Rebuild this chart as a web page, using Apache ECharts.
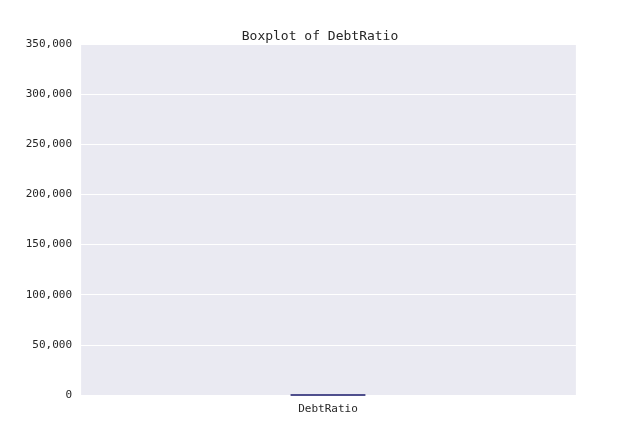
<!DOCTYPE html>
<html><head><meta charset="UTF-8">
<script src="https://cdn.jsdelivr.net/npm/echarts@6/dist/echarts.min.js"></script>
</head><body style="margin:0">
<div id="main" style="width:640px;height:440px;"></div>
<script>
var categories = ['DebtRatio'];
// min, Q1, median, Q3, upper whisker
var boxValues = [[0, 0.175, 0.367, 0.868, 1.91]];
var yTicks = [0, 50000, 100000, 150000, 200000, 250000, 300000, 350000];

var chart = echarts.init(document.getElementById('main'));
var font = 'DejaVu Sans Mono';
chart.setOption({
  animation: false,
  title: { text: 'Boxplot of DebtRatio', left: 'center', top: 25,
    textStyle: { fontFamily: font, fontSize: 13, fontWeight: 'normal', color: '#262626' } },
  grid: { left: 80, right: 64, top: 44, bottom: 45, backgroundColor: '#EAEAF2', show: true, borderWidth: 0 },
  xAxis: {
    type: 'category', data: categories,
    axisLine: { show: false }, axisTick: { show: false, alignWithLabel: true },
    axisLabel: { fontFamily: font, fontSize: 11, color: '#262626', margin: 9 },
    splitLine: { show: true, lineStyle: { color: '#fff', width: 1.2 } }
  },
  yAxis: {
    type: 'value', min: 0, max: 350000, interval: 50000,
    axisLine: { show: false }, axisTick: { show: false },
    axisLabel: { fontFamily: font, fontSize: 11, color: '#262626', margin: 8 },
    splitLine: { lineStyle: { color: '#fff', width: 1.2 } }
  },
  series: [{
    type: 'boxplot', data: boxValues, boxWidth: ['15%', '15%'],
    itemStyle: { color: '#4C72B0', borderColor: '#4a4a8a', borderWidth: 1 }
  }]
});
</script></body></html>
